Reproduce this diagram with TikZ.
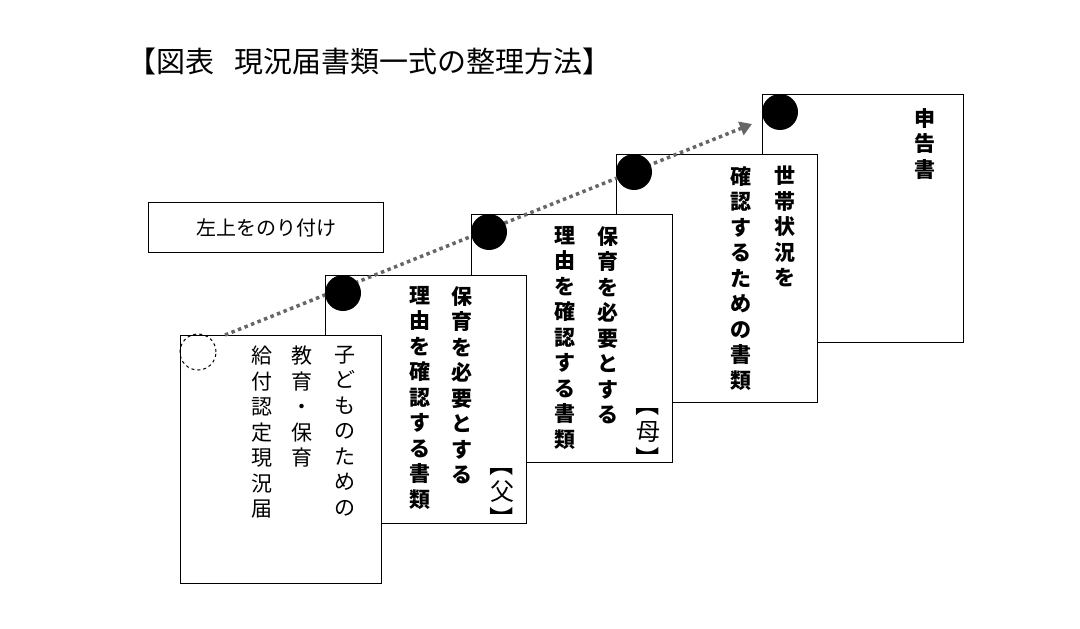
\documentclass[tikz,border=0pt]{standalone}
\usepackage{fontspec}
\setmainfont{Noto Sans CJK JP}
\usetikzlibrary{arrows.meta}
\newcommand{\vb}{\rotatebox[origin=c]{-90}}
\begin{document}
\begin{tikzpicture}[x=1pt,y=-1pt,
  card/.style={draw,line width=1.2pt,fill=white,minimum width=201pt,minimum height=248pt,anchor=north west,inner sep=0},
  vt/.style={anchor=north,align=center,inner sep=0,font=\fontsize{21}{25.5}\selectfont},
  vtb/.style={vt,font=\fontsize{21}{25.5}\selectfont\bfseries},
  dot/.style={circle,fill=black,minimum size=36pt,inner sep=0}]
\useasboundingbox (0,0) rectangle (1080,629);
\node[anchor=west,font=\fontsize{29}{32}\selectfont] (title) at (124,61) {【図表\hspace{0.7em}現況届書類一式の整理方法】};
\node[draw,line width=1.2pt,minimum width=235pt,minimum height=50pt,anchor=north west,font=\fontsize{20}{24}\selectfont] (lab) at (148,202) {左上をのり付け};
\node[card] (c5) at (762,94) {};
\node[card] (c4) at (616,154) {};
\node[card] (c3) at (471,214) {};
\node[card] (c2) at (325,275) {};
\node[card] (c1) at (180,335) {};
\node[vtb] (t5) at (925,108) {申\\告\\書};
\node[vtb] (t4a) at (785,166) {世\\帯\\状\\況\\を};
\node[vtb] (t4b) at (741,166) {確\\認\\す\\る\\た\\め\\の\\書\\類};
\node[vtb] (t3a) at (608,226) {保\\育\\を\\必\\要\\と\\す\\る};
\node[vtb] (t3b) at (565,226) {理\\由\\を\\確\\認\\す\\る\\書\\類};
\node[vt,font=\fontsize{24}{27}\selectfont] (m3) at (648,392) {\vb{【}\\母\\\vb{】}};
\node[vtb] (t2a) at (462,286) {保\\育\\を\\必\\要\\と\\す\\る};
\node[vtb] (t2b) at (420,286) {理\\由\\を\\確\\認\\す\\る\\書\\類};
\node[vt,font=\fontsize{24}{27}\selectfont] (m2) at (502,452) {\vb{【}\\父\\\vb{】}};
\node[vt] (t1a) at (345,346) {子\\ど\\も\\の\\た\\め\\の};
\node[vt] (t1b) at (302,346) {教\\育\\・\\保\\育};
\node[vt] (t1c) at (262,346) {給\\付\\認\\定\\現\\況\\届};
\node[circle,draw,dashed,line width=1pt,minimum size=36pt,inner sep=0] (d0) at (198,352) {};
\coordinate (s) at (225,335);
\coordinate (e) at (752,124);
\draw[gray!80!black,line width=3.5pt,dash pattern=on 3.5pt off 3.5pt,-{Triangle[length=12pt,width=14pt]}] (s) -- (e);
\node[dot] (d1) at (343,293) {};
\node[dot] (d2) at (489,232) {};
\node[dot] (d3) at (634,172) {};
\node[dot] (d4) at (780,112) {};
\end{tikzpicture}
\end{document}
